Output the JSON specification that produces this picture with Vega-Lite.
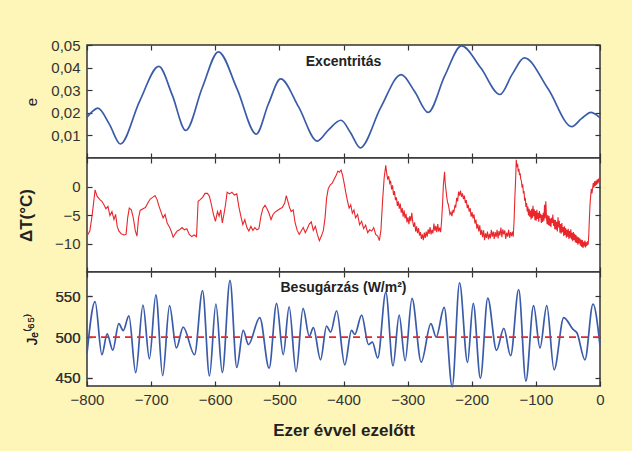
{
  "$schema": "https://vega.github.io/schema/vega-lite/v6.json",
  "background": "#FDF6B8",
  "padding": {"left": 16, "top": 37, "right": 31, "bottom": 12},
  "spacing": 0,
  "bounds": "flush",
  "config": {
    "font": "Liberation Sans",
    "view": {"stroke": "#333333", "strokeWidth": 1.5, "fill": "#FFFFFF"},
    "axis": {"domain": false, "offset": -5, "tickColor": "#333333", "tickWidth": 1.2, "tickSize": 5, "labelFont": "Liberation Sans", "labelFontSize": 15, "labelColor": "#333333", "titleFont": "Liberation Sans", "titleColor": "#222222", "grid": false},
    "axisX": {"labelFlush": false}
  },
  "datasets": {
    "ecc": [
      {"t": -800, "e": 0.0180}, {"t": -792, "e": 0.0205}, {"t": -783, "e": 0.0221}, {"t": -765, "e": 0.0149},
      {"t": -748, "e": 0.0062}, {"t": -718, "e": 0.0251}, {"t": -688, "e": 0.0405}, {"t": -667, "e": 0.0278},
      {"t": -646, "e": 0.0122}, {"t": -620, "e": 0.0313}, {"t": -595, "e": 0.0470}, {"t": -566, "e": 0.0306},
      {"t": -536, "e": 0.0106}, {"t": -517, "e": 0.0240}, {"t": -498, "e": 0.0350}, {"t": -470, "e": 0.0226},
      {"t": -441, "e": 0.0075}, {"t": -423, "e": 0.0126}, {"t": -404, "e": 0.0167}, {"t": -389, "e": 0.0112},
      {"t": -374, "e": 0.0045}, {"t": -342, "e": 0.0223}, {"t": -310, "e": 0.0369}, {"t": -289, "e": 0.0294},
      {"t": -268, "e": 0.0202}, {"t": -242, "e": 0.0364}, {"t": -216, "e": 0.0496}, {"t": -186, "e": 0.0399},
      {"t": -156, "e": 0.0281}, {"t": -137, "e": 0.0370}, {"t": -118, "e": 0.0443}, {"t": -81, "e": 0.0306},
      {"t": -44, "e": 0.0139}, {"t": -29, "e": 0.0174}, {"t": -14, "e": 0.0202}, {"t": -7, "e": 0.0194},
      {"t": 0, "e": 0.0178}
    ],
    "temp": [
      {"t": -800, "T": -8.7}, {"t": -795.6, "T": -7.8}, {"t": -791.8, "T": -4.9}, {"t": -787.4, "T": -0.6},
      {"t": -784.3, "T": -1.7}, {"t": -779.9, "T": -2.3}, {"t": -776.8, "T": -2.6}, {"t": -773.6, "T": -3.2},
      {"t": -770.5, "T": -3.9}, {"t": -767.3, "T": -3.5}, {"t": -764.2, "T": -5.1}, {"t": -761.1, "T": -4.4},
      {"t": -757.9, "T": -5.8}, {"t": -755.4, "T": -4.9}, {"t": -752.9, "T": -7.0}, {"t": -750.4, "T": -7.8},
      {"t": -746.6, "T": -8.3}, {"t": -742.2, "T": -8.5}, {"t": -739.1, "T": -8.4}, {"t": -736.6, "T": -5.5},
      {"t": -734.1, "T": -3.8}, {"t": -730.9, "T": -4.1}, {"t": -727.8, "T": -5.5}, {"t": -724.6, "T": -7.8},
      {"t": -722.1, "T": -8.7}, {"t": -719.6, "T": -5.5}, {"t": -717.1, "T": -4.2}, {"t": -712.7, "T": -3.9},
      {"t": -708.9, "T": -3.7}, {"t": -705.2, "T": -2.9}, {"t": -701.4, "T": -2.2}, {"t": -697.6, "T": -1.9},
      {"t": -693.9, "T": -1.6}, {"t": -690.7, "T": -2.3}, {"t": -687.6, "T": -3.5}, {"t": -684.5, "T": -4.5},
      {"t": -681.3, "T": -5.5}, {"t": -678.2, "T": -4.9}, {"t": -675.0, "T": -6.4}, {"t": -671.9, "T": -7.0},
      {"t": -668.8, "T": -7.8}, {"t": -665.6, "T": -8.9}, {"t": -662.5, "T": -8.3}, {"t": -659.3, "T": -7.8},
      {"t": -655.6, "T": -7.6}, {"t": -651.8, "T": -7.2}, {"t": -648.0, "T": -7.6}, {"t": -644.3, "T": -7.4},
      {"t": -640.5, "T": -8.4}, {"t": -636.7, "T": -8.8}, {"t": -633.0, "T": -8.5}, {"t": -629.2, "T": -8.8},
      {"t": -626.7, "T": -2.6}, {"t": -623.5, "T": -2.3}, {"t": -619.8, "T": -1.9}, {"t": -616.0, "T": -1.2},
      {"t": -612.2, "T": -1.2}, {"t": -609.1, "T": -1.7}, {"t": -606.0, "T": -3.2}, {"t": -602.8, "T": -4.9},
      {"t": -599.7, "T": -6.1}, {"t": -596.5, "T": -4.4}, {"t": -594.0, "T": -5.2}, {"t": -591.5, "T": -4.1},
      {"t": -589.0, "T": -6.4}, {"t": -586.5, "T": -4.9}, {"t": -584.0, "T": -3.2}, {"t": -581.5, "T": -1.0},
      {"t": -577.7, "T": -1.3}, {"t": -574.0, "T": -1.0}, {"t": -570.2, "T": -1.5}, {"t": -566.4, "T": -1.3},
      {"t": -563.3, "T": -3.5}, {"t": -560.1, "T": -5.2}, {"t": -557.0, "T": -6.7}, {"t": -553.9, "T": -5.8},
      {"t": -550.7, "T": -7.2}, {"t": -547.6, "T": -7.8}, {"t": -544.4, "T": -7.0}, {"t": -541.3, "T": -7.7},
      {"t": -538.2, "T": -7.2}, {"t": -535.0, "T": -7.6}, {"t": -531.9, "T": -7.4}, {"t": -528.7, "T": -5.2},
      {"t": -525.6, "T": -3.8}, {"t": -522.4, "T": -3.3}, {"t": -519.3, "T": -3.9}, {"t": -516.2, "T": -4.7},
      {"t": -513.0, "T": -5.8}, {"t": -509.9, "T": -4.9}, {"t": -506.7, "T": -4.5}, {"t": -503.0, "T": -4.2},
      {"t": -499.2, "T": -3.9}, {"t": -495.4, "T": -3.7}, {"t": -491.7, "T": -2.9}, {"t": -489.2, "T": -1.6},
      {"t": -486.7, "T": -2.6}, {"t": -484.1, "T": -3.7}, {"t": -481.6, "T": -4.4}, {"t": -478.5, "T": -4.1},
      {"t": -475.4, "T": -6.4}, {"t": -472.2, "T": -7.7}, {"t": -469.1, "T": -8.4}, {"t": -465.9, "T": -7.8},
      {"t": -462.8, "T": -7.2}, {"t": -459.6, "T": -8.1}, {"t": -456.5, "T": -7.4}, {"t": -453.4, "T": -6.6},
      {"t": -450.2, "T": -6.2}, {"t": -447.1, "T": -7.7}, {"t": -443.9, "T": -7.0}, {"t": -440.8, "T": -8.4},
      {"t": -437.6, "T": -9.5}, {"t": -434.5, "T": -8.7}, {"t": -431.4, "T": -7.7}, {"t": -428.8, "T": -5.5},
      {"t": -426.3, "T": -2.0}, {"t": -423.8, "T": -0.4}, {"t": -420.6, "T": 0.3}, {"t": -417.5, "T": 0.6},
      {"t": -414.4, "T": 1.3}, {"t": -411.2, "T": 2.0}, {"t": -408.7, "T": 2.7}, {"t": -406.3, "T": 2.5},
      {"t": -403.8, "T": 2.9}, {"t": -401.3, "T": 1.9}, {"t": -398.7, "T": 0.4}, {"t": -396.2, "T": -1.2},
      {"t": -393.7, "T": -2.6}, {"t": -391.2, "T": -3.8}, {"t": -388.7, "T": -3.2}, {"t": -386.2, "T": -4.7},
      {"t": -383.7, "T": -4.1}, {"t": -381.2, "T": -5.5}, {"t": -378.0, "T": -4.9}, {"t": -374.9, "T": -6.7},
      {"t": -371.7, "T": -6.1}, {"t": -368.6, "T": -7.4}, {"t": -365.5, "T": -6.8}, {"t": -362.3, "T": -8.1},
      {"t": -359.2, "T": -7.6}, {"t": -356.0, "T": -7.8}, {"t": -352.9, "T": -7.2}, {"t": -349.8, "T": -8.4},
      {"t": -346.6, "T": -8.7}, {"t": -344.1, "T": -9.5}, {"t": -341.6, "T": -7.6}, {"t": -339.1, "T": -2.6},
      {"t": -336.6, "T": 1.5}, {"t": -334.1, "T": 3.7}, {"t": -332.5, "T": 2.2}, {"t": -331, "T": 1.2},
      {"t": -329.5, "T": 1.8}, {"t": -328, "T": 0.6}, {"t": -326.6, "T": 1.0}, {"t": -325, "T": -0.5},
      {"t": -323.5, "T": 0.2}, {"t": -322, "T": -1.5}, {"t": -320.5, "T": -0.8}, {"t": -319, "T": -2.4},
      {"t": -317.5, "T": -1.9}, {"t": -316, "T": -3.4}, {"t": -314.5, "T": -2.6}, {"t": -313, "T": -3.9},
      {"t": -311.5, "T": -3.0}, {"t": -310, "T": -4.6}, {"t": -308.5, "T": -3.8}, {"t": -307, "T": -5.3},
      {"t": -305.5, "T": -4.2}, {"t": -304, "T": -5.6}, {"t": -302.5, "T": -4.8}, {"t": -301, "T": -6.3},
      {"t": -299.5, "T": -5.4}, {"t": -298, "T": -6.6}, {"t": -296.5, "T": -5.2}, {"t": -295, "T": -6.1},
      {"t": -293.5, "T": -4.6}, {"t": -292, "T": -6.2}, {"t": -290.5, "T": -7.1}, {"t": -289, "T": -6.3},
      {"t": -287.5, "T": -7.9}, {"t": -286, "T": -7.0}, {"t": -284.5, "T": -8.2}, {"t": -283, "T": -7.3},
      {"t": -281.5, "T": -8.6}, {"t": -280, "T": -8.0}, {"t": -278.5, "T": -9.2}, {"t": -277, "T": -8.4},
      {"t": -275.5, "T": -9.4}, {"t": -274, "T": -8.1}, {"t": -272.5, "T": -9.0}, {"t": -271, "T": -7.9},
      {"t": -269.5, "T": -8.8}, {"t": -268, "T": -7.5}, {"t": -266.5, "T": -8.3}, {"t": -265, "T": -7.1},
      {"t": -263.5, "T": -8.4}, {"t": -262, "T": -7.6}, {"t": -260.5, "T": -8.2}, {"t": -259, "T": -6.5},
      {"t": -257.5, "T": -7.8}, {"t": -256, "T": -6.9}, {"t": -254.5, "T": -8.0}, {"t": -253, "T": -6.6},
      {"t": -251.5, "T": -7.9}, {"t": -250, "T": -7.2}, {"t": -248.5, "T": -8.0}, {"t": -247, "T": -6.0},
      {"t": -245.5, "T": -3.0}, {"t": -244.2, "T": 0.3}, {"t": -242.4, "T": 2.6}, {"t": -241.5, "T": 0.8},
      {"t": -240.5, "T": -0.3}, {"t": -239, "T": -1.8}, {"t": -238, "T": -2.6}, {"t": -236.5, "T": -3.2},
      {"t": -235.5, "T": -3.8}, {"t": -234, "T": -4.9}, {"t": -232.3, "T": -4.5}, {"t": -231, "T": -5.2},
      {"t": -229.2, "T": -4.1}, {"t": -228, "T": -4.6}, {"t": -226.1, "T": -3.2}, {"t": -225, "T": -3.7},
      {"t": -223.5, "T": -2.0}, {"t": -222, "T": -2.6}, {"t": -220.5, "T": -0.9}, {"t": -219, "T": -1.6},
      {"t": -217.5, "T": -0.7}, {"t": -216, "T": -1.8}, {"t": -214.5, "T": -1.2}, {"t": -213, "T": -2.2},
      {"t": -211.5, "T": -1.6}, {"t": -210, "T": -2.9}, {"t": -208.5, "T": -2.4}, {"t": -207, "T": -3.8},
      {"t": -205.5, "T": -3.2}, {"t": -204, "T": -4.4}, {"t": -202.5, "T": -3.8}, {"t": -201, "T": -5.3},
      {"t": -199.5, "T": -4.5}, {"t": -198, "T": -5.6}, {"t": -196.5, "T": -4.9}, {"t": -195, "T": -6.5},
      {"t": -193.5, "T": -5.8}, {"t": -192, "T": -7.4}, {"t": -190.5, "T": -6.6}, {"t": -189, "T": -7.9},
      {"t": -187.5, "T": -6.8}, {"t": -186, "T": -8.5}, {"t": -184.5, "T": -7.6}, {"t": -183, "T": -8.9},
      {"t": -181.5, "T": -7.7}, {"t": -180, "T": -9.4}, {"t": -178.5, "T": -8.2}, {"t": -177, "T": -9.0},
      {"t": -175.5, "T": -7.9}, {"t": -174, "T": -9.3}, {"t": -172.5, "T": -8.3}, {"t": -171, "T": -9.1},
      {"t": -169.5, "T": -7.6}, {"t": -168, "T": -8.8}, {"t": -166.5, "T": -7.9}, {"t": -165, "T": -9.2},
      {"t": -163.5, "T": -8.0}, {"t": -162, "T": -8.9}, {"t": -160.5, "T": -7.6}, {"t": -159, "T": -9.1},
      {"t": -157.5, "T": -7.8}, {"t": -156, "T": -8.6}, {"t": -154.5, "T": -7.2}, {"t": -153, "T": -8.9},
      {"t": -151.5, "T": -7.5}, {"t": -150, "T": -8.4}, {"t": -148.5, "T": -7.7}, {"t": -147, "T": -9.2},
      {"t": -145.5, "T": -8.1}, {"t": -144, "T": -8.8}, {"t": -142.5, "T": -7.6}, {"t": -141, "T": -9.0},
      {"t": -139.5, "T": -8.0}, {"t": -138, "T": -8.7}, {"t": -136.5, "T": -7.9}, {"t": -135.3, "T": -8.8},
      {"t": -134, "T": -6.0}, {"t": -133, "T": -2.6}, {"t": -131.5, "T": 1.5}, {"t": -130.6, "T": 4.7},
      {"t": -129.5, "T": 3.4}, {"t": -128.5, "T": 4.0}, {"t": -127.5, "T": 2.6}, {"t": -126.5, "T": 3.1},
      {"t": -125.5, "T": 2.0}, {"t": -124.5, "T": 2.3}, {"t": -123.5, "T": 1.2}, {"t": -122.5, "T": 1.0},
      {"t": -121.5, "T": -0.2}, {"t": -120.5, "T": 0.4}, {"t": -119.5, "T": -1.2}, {"t": -118.5, "T": -0.8},
      {"t": -117.5, "T": -2.5}, {"t": -116.5, "T": -2.0}, {"t": -115.5, "T": -3.6}, {"t": -114.5, "T": -2.9},
      {"t": -113.5, "T": -4.4}, {"t": -112.5, "T": -3.5}, {"t": -111.5, "T": -5.1}, {"t": -110.5, "T": -3.9},
      {"t": -109.5, "T": -5.3}, {"t": -108.5, "T": -4.2}, {"t": -107.5, "T": -5.8}, {"t": -106.5, "T": -3.9},
      {"t": -105.5, "T": -5.5}, {"t": -104.5, "T": -3.4}, {"t": -103.5, "T": -5.2}, {"t": -102.5, "T": -4.0},
      {"t": -101.5, "T": -5.9}, {"t": -100.5, "T": -4.3}, {"t": -99.5, "T": -6.0}, {"t": -98.5, "T": -4.1},
      {"t": -97.5, "T": -5.7}, {"t": -96.5, "T": -4.6}, {"t": -95.5, "T": -6.2}, {"t": -94.5, "T": -4.3},
      {"t": -93.5, "T": -5.5}, {"t": -92.5, "T": -4.8}, {"t": -91.5, "T": -6.4}, {"t": -90.5, "T": -5.0},
      {"t": -89.5, "T": -6.2}, {"t": -88.5, "T": -4.6}, {"t": -87.5, "T": -6.0}, {"t": -86.5, "T": -3.2},
      {"t": -85.5, "T": -5.6}, {"t": -84.5, "T": -2.6}, {"t": -83.5, "T": -5.4}, {"t": -82.5, "T": -6.6},
      {"t": -81.5, "T": -5.0}, {"t": -80.5, "T": -6.8}, {"t": -79.5, "T": -5.2}, {"t": -78.5, "T": -6.9},
      {"t": -77.5, "T": -5.6}, {"t": -76.5, "T": -7.1}, {"t": -75.5, "T": -5.5}, {"t": -74.5, "T": -6.4},
      {"t": -73.5, "T": -4.9}, {"t": -72.5, "T": -6.9}, {"t": -71.5, "T": -5.8}, {"t": -70.5, "T": -7.5},
      {"t": -69.5, "T": -5.9}, {"t": -68.5, "T": -7.6}, {"t": -67.5, "T": -6.2}, {"t": -66.5, "T": -7.9},
      {"t": -65.5, "T": -5.4}, {"t": -64.5, "T": -7.2}, {"t": -63.5, "T": -6.0}, {"t": -62.5, "T": -8.1},
      {"t": -61.5, "T": -6.6}, {"t": -60.5, "T": -8.3}, {"t": -59.5, "T": -6.4}, {"t": -58.5, "T": -8.0},
      {"t": -57.5, "T": -7.1}, {"t": -56.5, "T": -8.7}, {"t": -55.5, "T": -7.0}, {"t": -54.5, "T": -8.5},
      {"t": -53.5, "T": -7.3}, {"t": -52.5, "T": -9.0}, {"t": -51.5, "T": -7.6}, {"t": -50.5, "T": -8.8},
      {"t": -49.5, "T": -7.4}, {"t": -48.5, "T": -9.2}, {"t": -47.5, "T": -7.8}, {"t": -46.5, "T": -9.0},
      {"t": -45.5, "T": -7.5}, {"t": -44.5, "T": -9.3}, {"t": -43.5, "T": -8.1}, {"t": -42.5, "T": -9.6},
      {"t": -41.5, "T": -8.0}, {"t": -40.5, "T": -9.4}, {"t": -39.5, "T": -8.3}, {"t": -38.5, "T": -9.8},
      {"t": -37.5, "T": -8.5}, {"t": -36.5, "T": -9.9}, {"t": -35.5, "T": -8.8}, {"t": -34.5, "T": -10.2},
      {"t": -33.5, "T": -8.9}, {"t": -32.5, "T": -10.0}, {"t": -31.5, "T": -9.1}, {"t": -30.5, "T": -10.4},
      {"t": -29.5, "T": -9.3}, {"t": -28.5, "T": -10.6}, {"t": -27.5, "T": -9.4}, {"t": -26.5, "T": -10.8},
      {"t": -25.5, "T": -9.7}, {"t": -24.5, "T": -10.5}, {"t": -23.5, "T": -9.5}, {"t": -22.5, "T": -10.7},
      {"t": -21.5, "T": -9.8}, {"t": -20.5, "T": -10.4}, {"t": -19.5, "T": -9.6}, {"t": -18.5, "T": -10.2},
      {"t": -17.5, "T": -8.5}, {"t": -16.5, "T": -5.5}, {"t": -15.5, "T": -3.0}, {"t": -14.5, "T": -1.6},
      {"t": -13.5, "T": -0.4}, {"t": -12.5, "T": -1.2}, {"t": -11.5, "T": -0.3}, {"t": -10.5, "T": 0.6},
      {"t": -9.5, "T": -0.2}, {"t": -8.5, "T": 0.9}, {"t": -7.5, "T": 0.1}, {"t": -6.5, "T": 1.0},
      {"t": -5.5, "T": 0.3}, {"t": -4.5, "T": 1.2}, {"t": -3.5, "T": 0.5}, {"t": -2.5, "T": 1.4},
      {"t": -1.5, "T": 0.7}, {"t": -0.5, "T": 1.6}, {"t": 0, "T": 1.3}
    ],
    "ins": [
      {"t": -800, "J": 480}, {"t": -787.4, "J": 543.6}, {"t": -776.8, "J": 478.4}, {"t": -768.6, "J": 504},
      {"t": -759.8, "J": 484}, {"t": -750.4, "J": 516.6}, {"t": -743.5, "J": 508}, {"t": -734.7, "J": 526},
      {"t": -724, "J": 456.4}, {"t": -712.7, "J": 539.4}, {"t": -702.7, "J": 473.4}, {"t": -692.6, "J": 552},
      {"t": -682, "J": 452.7}, {"t": -671.3, "J": 538.6}, {"t": -660.6, "J": 486.7}, {"t": -650, "J": 512.4},
      {"t": -632.3, "J": 478.4}, {"t": -619.8, "J": 557.3}, {"t": -609, "J": 452.3}, {"t": -599, "J": 540.7},
      {"t": -589, "J": 456.4}, {"t": -577, "J": 569.7}, {"t": -566.4, "J": 462.7}, {"t": -556.4, "J": 508.3},
      {"t": -548.2, "J": 490.9}, {"t": -530.6, "J": 524}, {"t": -516, "J": 461.8}, {"t": -504.3, "J": 541.5},
      {"t": -494, "J": 478.4}, {"t": -484.8, "J": 537.3}, {"t": -474, "J": 457.7}, {"t": -463, "J": 535.3},
      {"t": -453.4, "J": 501.2}, {"t": -447, "J": 511.6}, {"t": -435.8, "J": 472.2}, {"t": -426.4, "J": 513.7},
      {"t": -420, "J": 506.2}, {"t": -410.7, "J": 532.4}, {"t": -398, "J": 466}, {"t": -387.5, "J": 508.3},
      {"t": -382.4, "J": 503.3}, {"t": -371.7, "J": 527}, {"t": -361, "J": 490.9}, {"t": -355, "J": 493.8},
      {"t": -346.6, "J": 474.3}, {"t": -334, "J": 555.2}, {"t": -322.8, "J": 464.7}, {"t": -313.2, "J": 527},
      {"t": -303.9, "J": 471}, {"t": -293.2, "J": 547.7}, {"t": -278.8, "J": 469.3}, {"t": -263.7, "J": 516.6},
      {"t": -255.5, "J": 500}, {"t": -243, "J": 536.5}, {"t": -230.5, "J": 439}, {"t": -219, "J": 566.8},
      {"t": -206.6, "J": 468.9}, {"t": -197.7, "J": 541.5}, {"t": -186.5, "J": 449.4}, {"t": -175, "J": 548},
      {"t": -161.4, "J": 483.8}, {"t": -150, "J": 510.8}, {"t": -139.4, "J": 477.2}, {"t": -126.8, "J": 558.5},
      {"t": -115.6, "J": 446}, {"t": -103.6, "J": 538.6}, {"t": -93.6, "J": 486.7}, {"t": -83, "J": 538.6},
      {"t": -71.6, "J": 459.8}, {"t": -56.5, "J": 524}, {"t": -42, "J": 509.5}, {"t": -36, "J": 505.4},
      {"t": -23.5, "J": 472.2}, {"t": -10.9, "J": 540.7}, {"t": 0, "J": 489.6}
    ]
  },
  "vconcat": [
    {
      "width": 513, "height": 113,
      "layer": [
        {
          "data": {"name": "ecc"},
          "mark": {"type": "line", "color": "#3A5BAA", "strokeWidth": 1.7, "interpolate": "monotone"},
          "encoding": {
            "x": {"field": "t", "type": "quantitative", "scale": {"domain": [-800, 0], "nice": false, "zero": false},
                  "axis": {"orient": "bottom", "values": [-800, -700, -600, -500, -400, -300, -200, -100, 0], "labels": false, "title": null}},
            "y": {"field": "e", "type": "quantitative", "scale": {"domain": [0, 0.05], "nice": false, "zero": false},
                  "axis": {"orient": "left", "values": [0.01, 0.02, 0.03, 0.04, 0.05], "labelExpr": "replace(format(datum.value, '.2f'), '.', ',')", "labelPadding": 7, "title": "e", "titleFontWeight": "normal", "titleFontSize": 15, "titlePadding": 11}}
          }
        },
        {
          "data": {"values": [{}]},
          "mark": {"type": "text", "text": "Excentritás", "fontWeight": "bold", "fontSize": 14, "color": "#222222"},
          "encoding": {
            "x": {"datum": -400, "type": "quantitative", "scale": {"domain": [-800, 0], "nice": false, "zero": false},
                  "axis": {"orient": "top", "values": [-800, -700, -600, -500, -400, -300, -200, -100, 0], "labels": false, "title": null}},
            "y": {"datum": 0.0425, "type": "quantitative", "scale": {"domain": [0, 0.05], "nice": false, "zero": false},
                  "axis": {"orient": "right", "values": [0.01, 0.02, 0.03, 0.04, 0.05], "labels": false, "title": null}}
          }
        }
      ]
    },
    {
      "width": 513, "height": 114,
      "layer": [
        {
          "data": {"name": "temp"},
          "mark": {"type": "line", "color": "#E8262B", "strokeWidth": 1.1},
          "encoding": {
            "x": {"field": "t", "type": "quantitative", "scale": {"domain": [-800, 0], "nice": false, "zero": false},
                  "axis": {"orient": "bottom", "values": [-800, -700, -600, -500, -400, -300, -200, -100, 0], "labels": false, "title": null}},
            "y": {"field": "T", "type": "quantitative", "scale": {"domain": [-15, 5], "nice": false, "zero": false},
                  "axis": {"orient": "left", "values": [-10, -5, 0], "labelPadding": 7, "title": "ΔT(°C)", "titleFontWeight": "bold", "titleFontSize": 17, "titlePadding": 19}}
          }
        },
        {
          "data": {"values": [{}]},
          "mark": {"type": "text", "text": ""},
          "encoding": {
            "x": {"datum": -400, "type": "quantitative", "scale": {"domain": [-800, 0], "nice": false, "zero": false},
                  "axis": {"orient": "top", "values": [-800, -700, -600, -500, -400, -300, -200, -100, 0], "labels": false, "title": null}},
            "y": {"datum": 0, "type": "quantitative", "scale": {"domain": [-15, 5], "nice": false, "zero": false},
                  "axis": {"orient": "right", "values": [-10, -5, 0], "labels": false, "title": null}}
          }
        }
      ]
    },
    {
      "width": 513, "height": 114,
      "layer": [
        {
          "data": {"name": "ins"},
          "mark": {"type": "line", "color": "#3A5BAA", "strokeWidth": 1.7, "interpolate": "monotone"},
          "encoding": {
            "x": {"field": "t", "type": "quantitative", "scale": {"domain": [-800, 0], "nice": false, "zero": false},
                  "axis": {"orient": "bottom", "values": [-800, -700, -600, -500, -400, -300, -200, -100, 0], "labelPadding": 6, "title": "Ezer évvel ezelőtt", "titleFontWeight": "bold", "titleFontSize": 17, "titlePadding": 15}},
            "y": {"field": "J", "type": "quantitative", "scale": {"domain": [440, 580], "nice": false, "zero": false},
                  "axis": {"orient": "left", "values": [450, 500, 550], "labelPadding": 7, "title": "Jₑ⁽⁶⁵⁾", "titleFontWeight": "normal", "titleFontSize": 15, "titlePadding": 15}}
          }
        },
        {
          "data": {"values": [{}]},
          "mark": {"type": "rule", "color": "#E8262B", "strokeWidth": 1.8, "strokeDash": [7, 5]},
          "encoding": {
            "y": {"datum": 500, "type": "quantitative", "scale": {"domain": [440, 580], "nice": false, "zero": false},
                  "axis": {"orient": "left", "values": [450, 500, 550], "labelPadding": 7, "title": "Jₑ⁽⁶⁵⁾", "titleFontWeight": "normal", "titleFontSize": 15, "titlePadding": 15}}
          }
        },
        {
          "data": {"values": [{}]},
          "mark": {"type": "text", "text": "Besugárzás (W/m²)", "fontWeight": "bold", "fontSize": 14, "color": "#222222"},
          "encoding": {
            "x": {"datum": -400, "type": "quantitative", "scale": {"domain": [-800, 0], "nice": false, "zero": false},
                  "axis": {"orient": "top", "values": [-800, -700, -600, -500, -400, -300, -200, -100, 0], "labels": false, "title": null}},
            "y": {"datum": 560, "type": "quantitative", "scale": {"domain": [440, 580], "nice": false, "zero": false},
                  "axis": {"orient": "right", "values": [450, 500, 550], "labels": false, "title": null}}
          }
        }
      ]
    }
  ]
}
